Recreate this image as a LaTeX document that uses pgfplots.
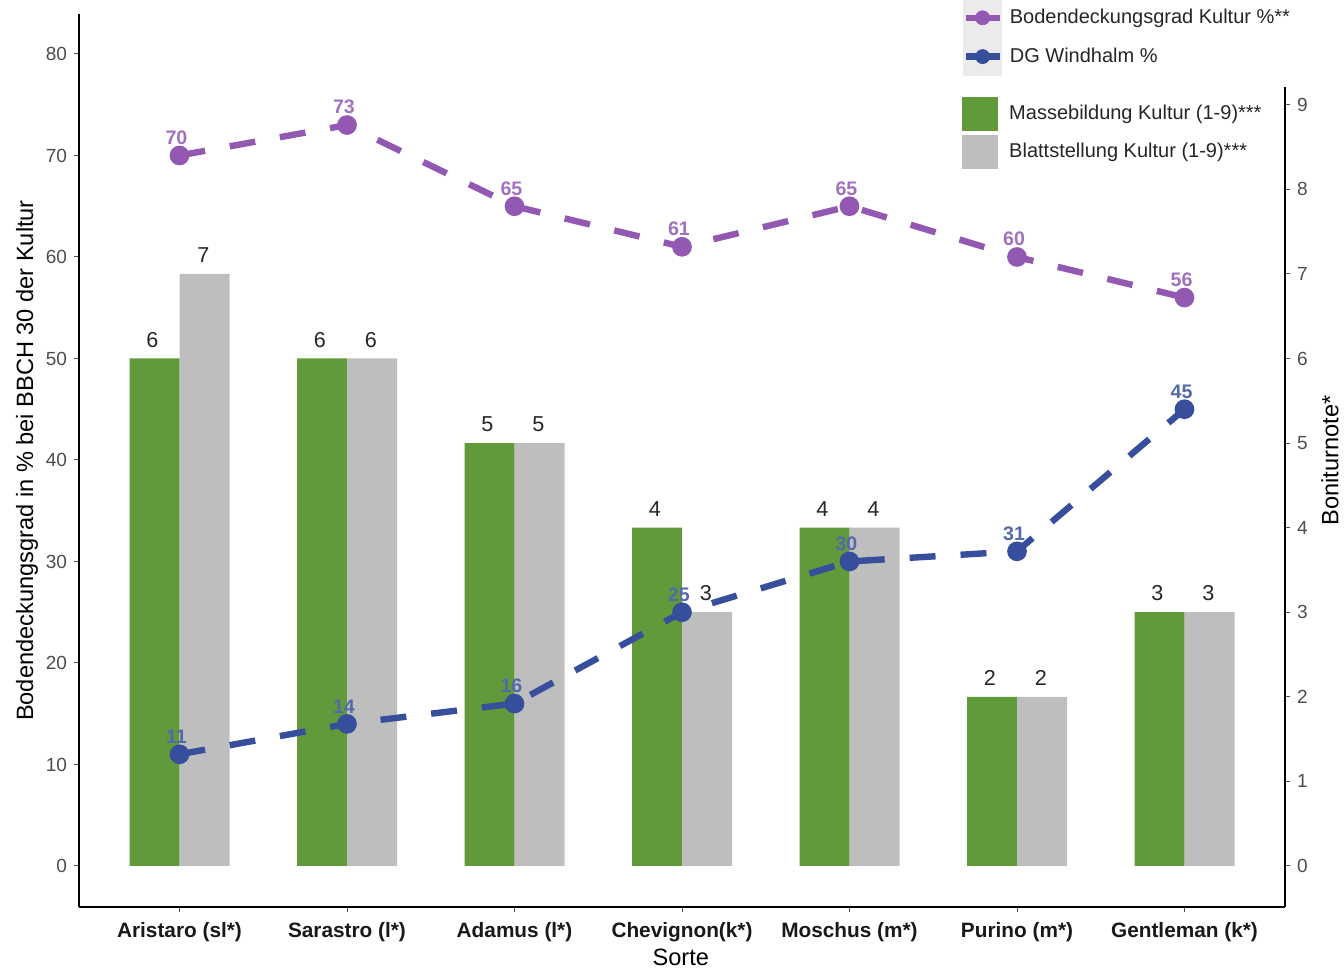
\documentclass[border=0pt]{standalone}
\usepackage{fontspec}
\setmainfont{Liberation Sans}
\usepackage{pgfplots}
\pgfplotsset{compat=1.18}
\definecolor{cgreen}{RGB}{96,154,58}
\definecolor{cgray}{RGB}{190,190,190}
\definecolor{cpurple}{RGB}{146,88,178}
\definecolor{cblue}{RGB}{54,78,155}
\definecolor{ctick}{RGB}{77,77,77}
\begin{document}
\begin{tikzpicture}[x=1pt,y=1pt]
\path[use as bounding box] (0,0) rectangle (672,484.5);
% ---------- bars on the right axis ----------
\begin{axis}[
  at={(39.5pt,31pt)}, anchor=south west, scale only axis,
  width=603pt, height=446.5pt,
  xmin=-0.6, xmax=6.6, ymin=-0.485, ymax=10.073,
  axis x line*=bottom, axis y line*=right,
  axis line style={-, black, line width=0.6pt},
  xtick={0,...,6},
  xticklabels={Aristaro (sl*), Sarastro (l*), Adamus (l*), Chevignon(k*), Moschus (m*), Purino (m*), Gentleman (k*)},
  ytick={0,...,9},
  tick align=outside, major tick length=2.5pt,
  tick style={ctick, line width=0.5pt},
  x tick label style={font=\fontsize{10.4}{12}\selectfont\bfseries, text=black!90, yshift=-1.5pt},
  y tick label style={font=\fontsize{9.5}{11}\selectfont, text=ctick},
  /pgf/number format/assume math mode=true,
  xlabel={Sorte}, ylabel={Boniturnote*},
  xlabel style={at={(axis description cs:0.499,-0.056)}, anchor=center, font=\fontsize{11.8}{14}\selectfont},
  ylabel style={at={(axis description cs:1.0373,0.5)}, anchor=center, rotate=0, font=\fontsize{11.8}{14}\selectfont},
  clip=false,
  legend style={at={(0.7322,0.9099)}, anchor=north west, fill=white, draw=none, inner sep=0pt,
    font=\fontsize{10}{12}\selectfont, text=black!85, cells={anchor=west},
    /tikz/every odd column/.append style={column sep=3.5pt}, row sep=0pt},
]
\addplot[ybar, bar width=25pt, bar shift=-12.5pt, fill=cgreen, draw=none, forget plot,
  nodes near coords, every node near coord/.append style={font=\fontsize{10.8}{12}\selectfont, text=black!85, xshift=-13.5pt, yshift=2pt}]
  coordinates {(0,6) (1,6) (2,5) (3,4) (4,4) (5,2) (6,3)};
\addplot[ybar, bar width=25pt, bar shift=12.5pt, fill=cgray, draw=none, forget plot,
  nodes near coords, every node near coord/.append style={font=\fontsize{10.8}{12}\selectfont, text=black!85, xshift=12pt, yshift=2pt}]
  coordinates {(0,7) (1,6) (2,5) (3,3) (4,4) (5,2) (6,3)};
\addlegendimage{legend image code/.code={\path[draw=none,fill=none] (0pt,-9.5pt) rectangle (17.5pt,9.5pt); \fill[cgreen] (0pt,-8.25pt) rectangle (17.5pt,8.25pt);}}
\addlegendentry{Massebildung Kultur (1-9)***}
\addlegendimage{legend image code/.code={\path[draw=none,fill=none] (0pt,-9.5pt) rectangle (17.5pt,9.5pt); \fill[cgray] (0pt,-8.25pt) rectangle (17.5pt,8.25pt);}}
\addlegendentry{Blattstellung Kultur (1-9)***}
\end{axis}
% ---------- lines on the left axis ----------
\begin{axis}[
  at={(39.5pt,31pt)}, anchor=south west, scale only axis,
  width=603pt, height=446.5pt,
  xmin=-0.6, xmax=6.6, ymin=-4.04, ymax=83.94,
  axis x line=none, axis y line*=left,
  axis line style={-, black, line width=0.6pt},
  ytick={0,10,...,80},
  tick align=outside, major tick length=2.5pt,
  tick style={ctick, line width=0.5pt},
  y tick label style={font=\fontsize{9.5}{11}\selectfont, text=ctick},
  /pgf/number format/assume math mode=true,
  ylabel={Bodendeckungsgrad in \% bei BBCH 30 der Kultur},
  ylabel style={at={(axis description cs:-0.0431,0.5)}, anchor=center, font=\fontsize{11.8}{14}\selectfont},
  clip=false,
  legend style={at={(0.7289,1.0302)}, anchor=north west, fill=white, draw=none, inner xsep=2pt, inner ysep=5.5pt,
    font=\fontsize{10}{12}\selectfont, text=black!85, cells={anchor=west},
    /tikz/every odd column/.append style={column sep=1.5pt}, row sep=0pt},
]
\addplot[cpurple, line width=3.2pt, dash pattern=on 13pt off 12.5pt, mark=*, mark size=3.3pt, mark options={solid}, forget plot,
  nodes near coords, every node near coord/.append style={font=\fontsize{9.8}{11}\selectfont\bfseries, text=cpurple!85, xshift=-1.5pt, yshift=0.5pt}]
  coordinates {(0,70) (1,73) (2,65) (3,61) (4,65) (5,60) (6,56)};
\addplot[cblue, line width=3.2pt, dash pattern=on 13pt off 12.5pt, mark=*, mark size=3.3pt, mark options={solid}, forget plot,
  nodes near coords, every node near coord/.append style={font=\fontsize{9.8}{11}\selectfont\bfseries, text=cblue!85, xshift=-1.5pt, yshift=0.5pt}]
  coordinates {(0,11) (1,14) (2,16) (3,25) (4,30) (5,31) (6,45)};
\addlegendimage{legend image code/.code={\fill[black!8] (0pt,-9.5pt) rectangle (19pt,9.5pt); \draw[cpurple, line width=3.2pt] (1pt,0pt) -- (18pt,0pt); \fill[cpurple] (9.5pt,0pt) circle (3.5pt);}}
\addlegendentry{Bodendeckungsgrad Kultur \%**}
\addlegendimage{legend image code/.code={\fill[black!8] (0pt,-9.5pt) rectangle (19pt,9.5pt); \draw[cblue, line width=3.2pt] (1pt,0pt) -- (18pt,0pt); \fill[cblue] (9.5pt,0pt) circle (3.5pt);}}
\addlegendentry{DG Windhalm \%}
\end{axis}
\end{tikzpicture}
\end{document}
